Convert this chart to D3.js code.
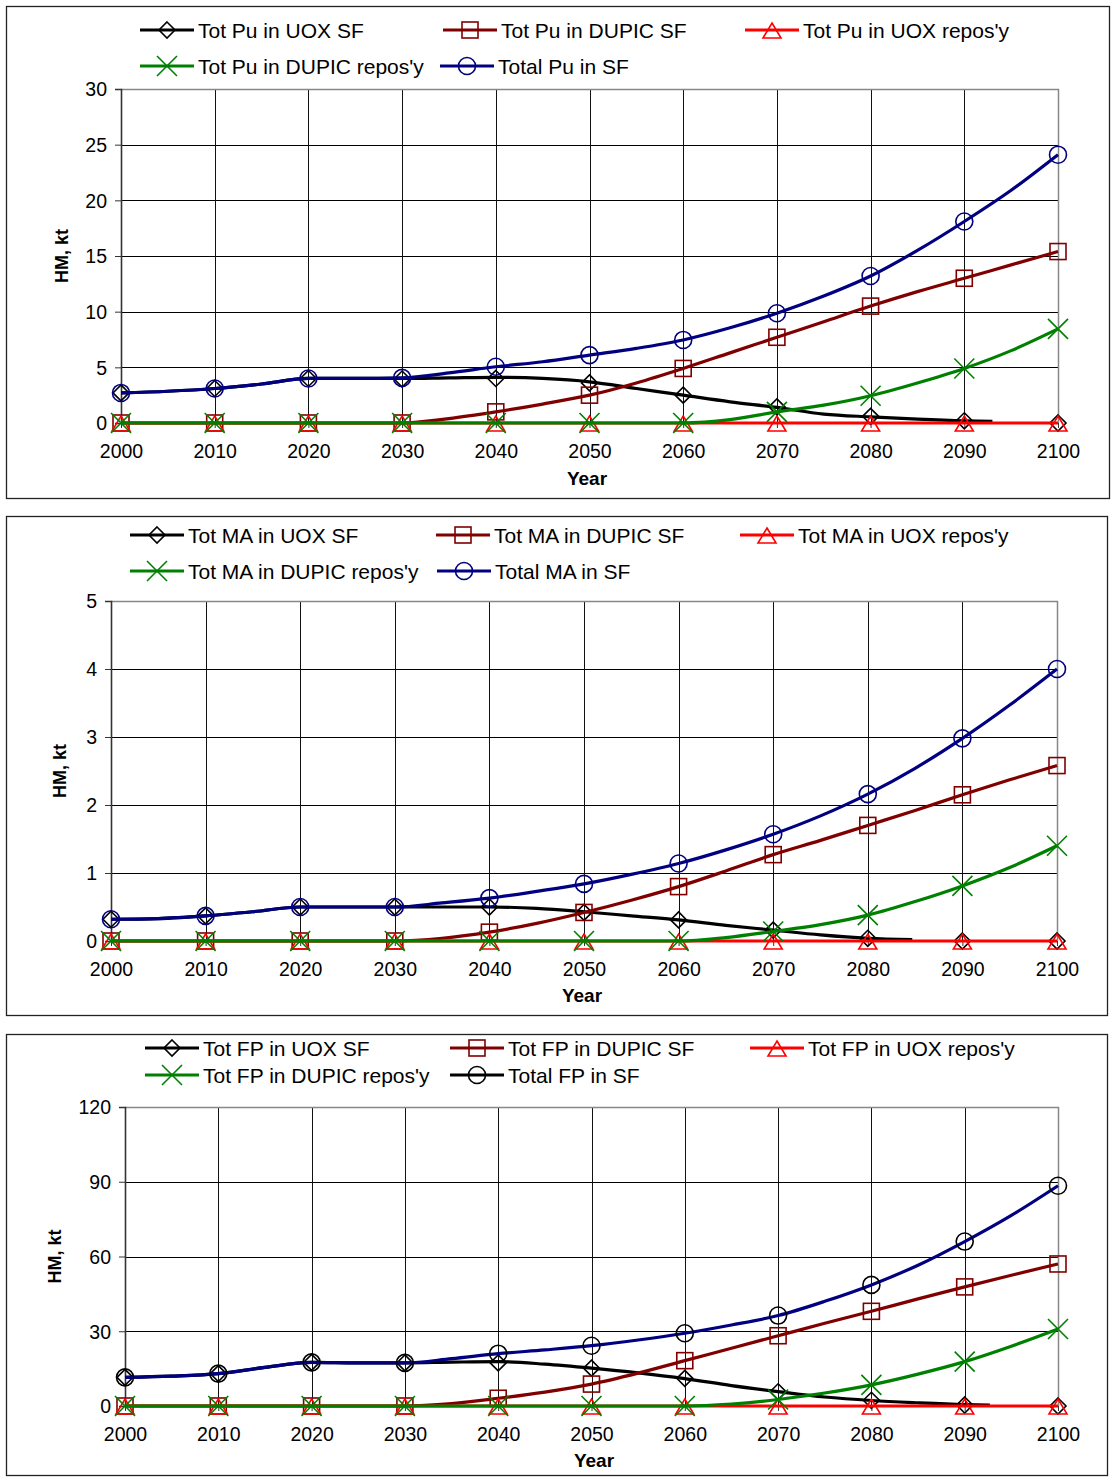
<!DOCTYPE html>
<html><head><meta charset="utf-8">
<script src="https://cdn.jsdelivr.net/npm/d3@7"></script>
<style>
body{margin:0;background:#fff}
svg{display:block}
text{font-family:"Liberation Sans",Arial,Helvetica,sans-serif;fill:#000}
</style>
</head><body>
<svg id="c" width="1111" height="1479"></svg>
<script>
// ---------- shared axes ----------
const YEARS = [2000,2005,2010,2015,2020,2025,2030,2035,2040,2045,2050,2055,2060,2065,2070,2075,2080,2085,2090,2095,2100];
const DECADES = [2000,2010,2020,2030,2040,2050,2060,2070,2080,2090,2100];

// ---------- Panel 1: Pu ----------
const puTicks = [0,5,10,15,20,25,30];
const puUoxYears = [2000,2005,2010,2015,2020,2025,2030,2035,2040,2045,2050,2055,2060,2065,2070,2075,2080,2085,2090,2093];
const puUoxSF = [2.7,2.85,3.1,3.5,4.0,4.0,4.0,4.05,4.1,4.0,3.7,3.1,2.5,1.9,1.4,0.8,0.55,0.35,0.2,0.15];
const puUoxSFMarks = [2.7,3.1,4.0,3.95,4.0,3.6,2.5,1.45,0.6,0.2,0];
const puDupicSF = [0,0,0,0,0,0,0,0.4,1.0,1.7,2.5,3.6,4.9,6.3,7.7,9.1,10.5,11.8,13.0,14.2,15.4];
const puUoxRepos = [0,0,0,0,0,0,0,0,0,0,0,0,0,0,0,0,0,0,0,0,0];
const puDupicRepos = [0,0,0,0,0,0,0,0,0,0,0,0,0,0.3,1.0,1.6,2.45,3.6,4.9,6.5,8.45];
const puTotal = [2.7,2.85,3.1,3.5,4.0,4.0,4.05,4.5,5.05,5.5,6.1,6.7,7.46,8.55,9.86,11.4,13.2,15.5,18.1,20.9,24.1];
const puLabels = ["Tot Pu in UOX SF","Tot Pu in DUPIC SF","Tot Pu in UOX repos'y","Tot Pu in DUPIC repos'y","Total Pu in SF"];

// ---------- Panel 2: MA ----------
const maTicks = [0,1,2,3,4,5];
const maUoxYears = [2000,2005,2010,2015,2020,2025,2030,2035,2040,2045,2050,2055,2060,2065,2070,2075,2080,2084.7];
const maUoxSF = [0.32,0.33,0.37,0.43,0.50,0.50,0.50,0.50,0.50,0.48,0.43,0.37,0.31,0.23,0.16,0.09,0.04,0.02];
const maUoxSFMarks = [0.32,0.37,0.50,0.50,0.50,0.42,0.31,0.16,0.04,0,0];
const maDupicSF = [0,0,0,0,0,0,0,0.04,0.13,0.26,0.42,0.60,0.80,1.03,1.27,1.48,1.70,1.92,2.15,2.37,2.58];
const maUoxRepos = [0,0,0,0,0,0,0,0,0,0,0,0,0,0,0,0,0,0,0,0,0];
const maDupicRepos = [0,0,0,0,0,0,0,0,0,0,0,0,0,0.05,0.14,0.24,0.38,0.58,0.81,1.08,1.40];
const maTotal = [0.32,0.33,0.37,0.43,0.50,0.50,0.50,0.56,0.63,0.73,0.84,0.98,1.14,1.34,1.57,1.84,2.16,2.54,2.98,3.47,4.0];
const maLabels = ["Tot MA in UOX SF","Tot MA in DUPIC SF","Tot MA in UOX repos'y","Tot MA in DUPIC repos'y","Total MA in SF"];

// ---------- Panel 3: FP ----------
const fpTicks = [0,30,60,90,120];
const fpUoxYears = [2000,2005,2010,2015,2020,2025,2030,2035,2040,2045,2050,2055,2060,2065,2070,2075,2080,2085,2090,2092.7];
const fpUoxSF = [11.5,12.0,13.0,15.5,17.5,17.3,17.3,17.6,17.8,16.8,15.2,13.3,11.0,8.2,5.8,3.6,2.2,1.3,0.6,0.4];
const fpUoxSFMarks = [11.5,13.0,17.5,17.3,17.3,15.2,11.1,5.7,2.3,0.4,0];
const fpDupicSF = [0,0,0,0,0,0,0,1.0,3.1,5.6,8.8,13.2,18.2,23.2,28.2,33.2,38.0,43.0,47.8,52.5,57.0];
const fpUoxRepos = [0,0,0,0,0,0,0,0,0,0,0,0,0,0,0,0,0,0,0,0,0];
const fpDupicRepos = [0,0,0,0,0,0,0,0,0,0,0,0,0,0.8,2.6,5.2,8.5,12.8,17.8,24.0,30.9];
const fpTotal = [11.5,12.0,13.0,15.5,17.5,17.3,17.3,19.0,21.0,22.5,24.2,26.5,29.2,32.5,36.3,42.0,48.6,56.5,66.0,76.5,88.4];
const fpLabels = ["Tot FP in UOX SF","Tot FP in DUPIC SF","Tot FP in UOX repos'y","Tot FP in DUPIC repos'y","Total FP in SF"];

// ---------- drawing ----------
const svg = d3.select("#c");
const pick = (vals) => DECADES.map(d => vals[YEARS.indexOf(d)]);

function marker(g, type, x, y, color) {
  const s = g.append("g").attr("transform", `translate(${x},${y})`)
    .attr("fill","none").attr("stroke",color).attr("stroke-width",1.6);
  if (type === "diamond") s.append("path").attr("d","M0,-8L8,0L0,8L-8,0Z");
  else if (type === "square") s.append("rect").attr("x",-8).attr("y",-8).attr("width",16).attr("height",16);
  else if (type === "triangle") s.append("path").attr("d","M0,-7L9,8L-9,8Z");
  else if (type === "x") s.append("path").attr("d","M-10,-10L10,10M-10,10L10,-10");
  else if (type === "circle") s.append("circle").attr("r",8.5);
}

function panel(cfg) {
  const g = svg.append("g");
  g.append("rect").attr("x",cfg.box[0]+0.5).attr("y",cfg.box[1]+0.5)
    .attr("width",cfg.box[2]).attr("height",cfg.box[3])
    .attr("fill","#fff").attr("stroke","#222").attr("stroke-width",1.3);

  const x = d3.scaleLinear().domain([2000,2100]).range([cfg.plot[0], cfg.plot[1]]);
  const y = d3.scaleLinear().domain([0, cfg.ticks[cfg.ticks.length-1]]).range([cfg.plot[3], cfg.plot[2]]);

  // gridlines
  g.append("g").selectAll("line").data(cfg.ticks.slice(1, -1)).join("line")
    .attr("x1",x(2000)).attr("x2",x(2100))
    .attr("y1",d=>Math.round(y(d))+0.5).attr("y2",d=>Math.round(y(d))+0.5)
    .attr("stroke","#000").attr("stroke-width",1);
  g.append("g").selectAll("line").data(DECADES.slice(1, -1)).join("line")
    .attr("x1",d=>Math.round(x(d))+0.5).attr("x2",d=>Math.round(x(d))+0.5)
    .attr("y1",y.range()[1]).attr("y2",y(0))
    .attr("stroke","#111").attr("stroke-width",1);
  // top & right frame
  g.append("path")
    .attr("d",`M${x(2000)},${Math.round(y.range()[1])+0.5}H${Math.round(x(2100))+0.5}V${y(0)}`)
    .attr("fill","none").attr("stroke","#888").attr("stroke-width",1.5);

  // y axis
  const ya = d3.axisLeft(y).tickValues(cfg.ticks).tickSize(6).tickPadding(8).tickFormat(d3.format("d"));
  const yg = g.append("g").attr("transform",`translate(${x(2000)},0)`).call(ya);
  yg.select(".domain").attr("stroke","#333").attr("stroke-width",1.6);
  yg.selectAll(".tick line").attr("stroke","#333");
  yg.selectAll("text").style("font-size","19.5px").attr("dy","0.35em");

  // x axis
  const xa = d3.axisBottom(x).tickValues(DECADES).tickSize(5).tickPadding(cfg.xPad).tickFormat(d3.format("d"));
  const xg = g.append("g").attr("transform",`translate(0,${y(0)})`).call(xa);
  xg.select(".domain").attr("stroke","#333");
  xg.selectAll(".tick line").attr("stroke","#333");
  xg.selectAll("text").style("font-size","19.5px");

  // axis titles
  g.append("text").attr("x",cfg.yearPos[0]).attr("y",cfg.yearPos[1])
    .attr("text-anchor","middle").attr("dominant-baseline","central")
    .style("font-size","19px").style("font-weight","bold").text("Year");
  g.append("text").attr("transform",`translate(${cfg.hmX},${(cfg.plot[2]+cfg.plot[3])/2}) rotate(-90)`)
    .attr("text-anchor","middle").attr("dominant-baseline","central")
    .style("font-size","18px").style("font-weight","bold").text("HM, kt");

  // series
  const line = d3.line().x(d=>x(d[0])).y(d=>y(d[1])).curve(d3.curveMonotoneX);
  cfg.series.forEach(s => {
    const pts = s.years.map((yr,i)=>[yr, s.values[i]]);
    g.append("path").attr("d",line(pts)).attr("fill","none")
      .attr("stroke",s.color).attr("stroke-width",3.2).attr("stroke-linejoin","round");
    s.marks.forEach((v,i) => marker(g, s.type, x(DECADES[i]), y(v), s.markColor || s.color));
  });

  // legend
  cfg.series.forEach((s,i) => {
    const [lx, ly] = cfg.legend[i];
    const lc = s.legendColor || s.color;
    g.append("line").attr("x1",lx).attr("x2",lx+54).attr("y1",ly).attr("y2",ly)
      .attr("stroke",lc).attr("stroke-width",3.2);
    marker(g, s.type, lx+27, ly, s.markColor || s.color);
    g.append("text").attr("x",lx+58).attr("y",ly).attr("dominant-baseline","central")
      .style("font-size","21px").text(cfg.labels[i]);
  });
}

function mkSeries(uoxY, uox, uoxM, dupic, uoxR, dupicR, total, totalMarkColor, totalLegendColor) {
  return [
    {years:uoxY, values:uox, marks:uoxM, color:"#000000", type:"diamond"},
    {years:YEARS, values:dupic, marks:pick(dupic), color:"#800000", type:"square"},
    {years:YEARS, values:uoxR, marks:pick(uoxR), color:"#FF0000", type:"triangle"},
    {years:YEARS, values:dupicR, marks:pick(dupicR), color:"#008000", type:"x"},
    {years:YEARS, values:total, marks:pick(total), color:"#000080", type:"circle",
     markColor: totalMarkColor, legendColor: totalLegendColor}
  ];
}

panel({
  box:[6,6,1103,492], plot:[121,1058,89,423], ticks:puTicks, labels:puLabels,
  xPad:16, yearPos:[587,478], hmX:62,
  legend:[[140,30],[443,30],[745,30],[140,66],[440,66]],
  series: mkSeries(puUoxYears, puUoxSF, puUoxSFMarks, puDupicSF, puUoxRepos, puDupicRepos, puTotal)
});
panel({
  box:[6,516,1101,499], plot:[111,1057,601,941], ticks:maTicks, labels:maLabels,
  xPad:16, yearPos:[582,995], hmX:60,
  legend:[[130,535],[436,535],[740,535],[130,571],[437,571]],
  series: mkSeries(maUoxYears, maUoxSF, maUoxSFMarks, maDupicSF, maUoxRepos, maDupicRepos, maTotal)
});
panel({
  box:[6,1034,1101,441], plot:[125,1058,1107,1406], ticks:fpTicks, labels:fpLabels,
  xPad:16, yearPos:[594,1460], hmX:55,
  legend:[[145,1048],[450,1048],[750,1048],[145,1075],[450,1075]],
  series: mkSeries(fpUoxYears, fpUoxSF, fpUoxSFMarks, fpDupicSF, fpUoxRepos, fpDupicRepos, fpTotal, "#000000", "#000000")
});
</script>
</body></html>
